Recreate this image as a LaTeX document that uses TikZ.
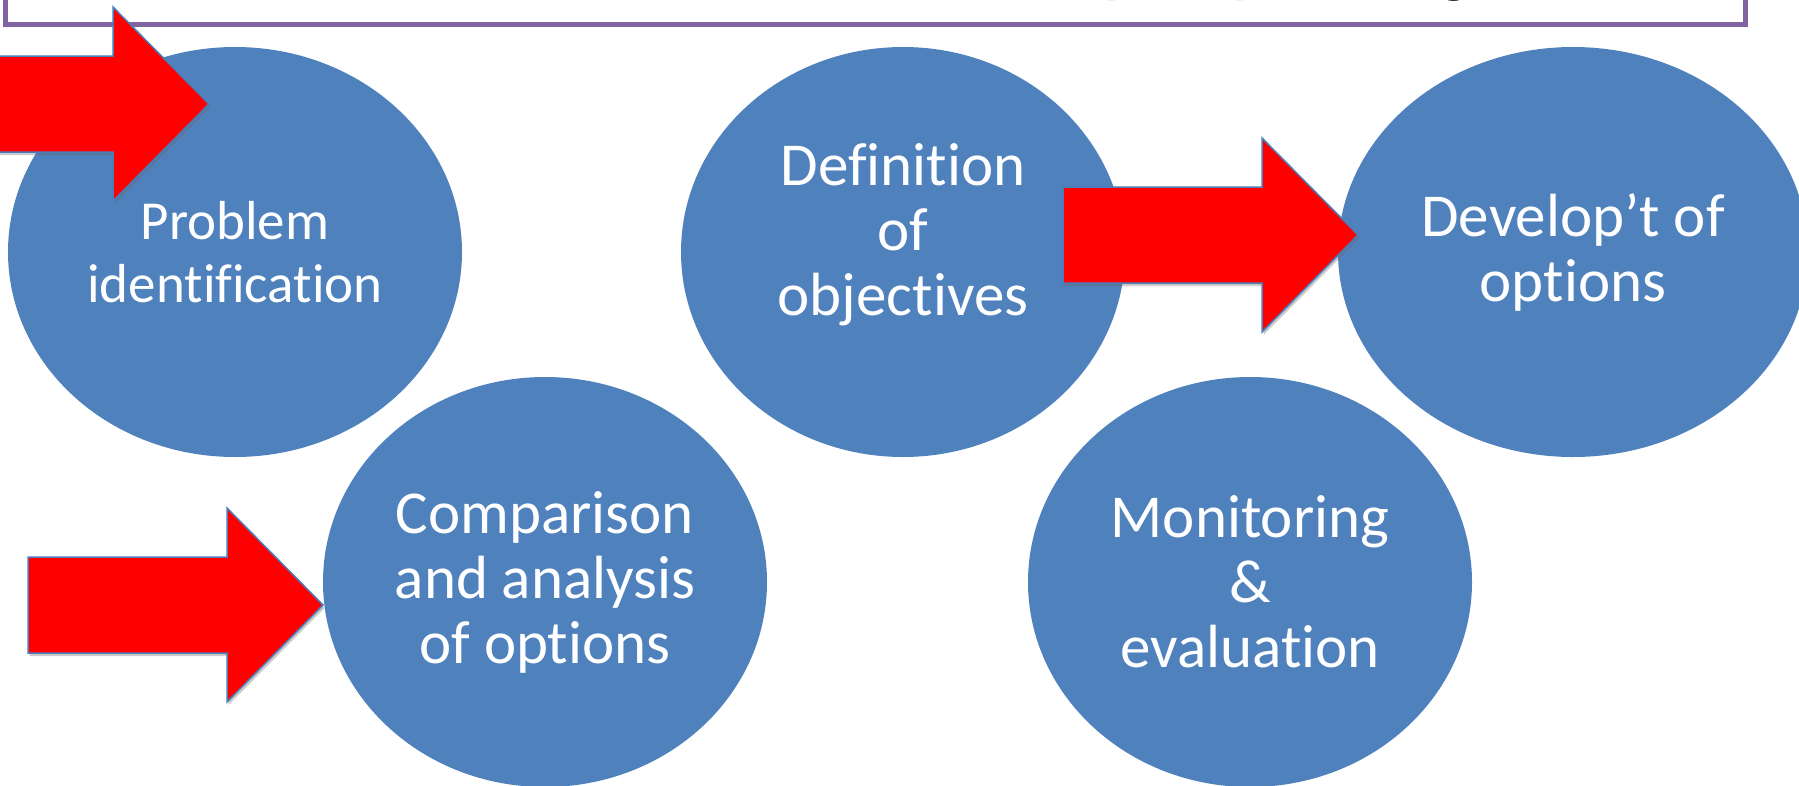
\documentclass[tikz,border=0pt]{standalone}
\usepackage{fontspec}
\setmainfont{Carlito}[Ligatures=NoCommon]
\usetikzlibrary{shapes.geometric,shadows}

\definecolor{ovalblue}{HTML}{4F81BD}
\definecolor{framepurple}{HTML}{8064A2}
\definecolor{arrowedge}{HTML}{4A7EBB}

\begin{document}
\begin{tikzpicture}[x=1pt,y=-1pt,
  ovaltext/.style={inner sep=0pt, text=white, align=center,
    font=\fontsize{61}{65}\selectfont},
  oval/.style={ovaltext, ellipse, fill=ovalblue, draw=none,
    minimum height=410},
  redarrow/.style={fill=red, draw=arrowedge, line width=1.5pt,
    line join=miter,
    drop shadow={shadow xshift=1.5pt, shadow yshift=-3pt,
      opacity=.35, fill=black!60}},
  frame/.style={draw=framepurple, line width=5pt},
  titletext/.style={anchor=base west, inner sep=0pt,
    font=\bfseries\fontsize{64}{70}\selectfont},
  pics/blockarrow/.style={code={
    \draw[redarrow] (-295,-48) -- (-96,-48) -- (-96,-97) -- (0,0)
      -- (-96,97) -- (-96,48) -- (-295,48) -- cycle;
  }},
]
\useasboundingbox (0,0) rectangle (1799,785);
\clip (0,0) rectangle (1799,785);

% heading frame, running off the top edge
\draw[frame] (5,-80) rectangle (1745,24.5);
\node[titletext] (title) at (1103,-10) {policy making};

% the five stages
\node[oval, minimum width=454, font=\fontsize{55}{63}\selectfont] (prob)
  at (235,252) {Problem\\identification};
\node[oval, minimum width=444] (obj) at (903,252) {};
\node[ovaltext] (objtext) at ([yshift=17pt]obj.center) {Definition\\of\\objectives};
\node[oval, minimum width=470] (dev) at (1573,252) {Develop’t of\\options};
\node[oval, minimum width=444] (cmp) at (545,582) {Comparison\\and analysis\\of options};
\node[oval, minimum width=444] (mon) at (1250,582) {Monitoring\\\&\\evaluation};

% block arrows, placed by their tips
\coordinate (tipA) at (209,104);
\coordinate (tipB) at (1358,235);
\coordinate (tipC) at (323,605);
\pic at (tipA) {blockarrow};
\pic at (tipB) {blockarrow};
\pic at (tipC) {blockarrow};
\end{tikzpicture}
\end{document}
